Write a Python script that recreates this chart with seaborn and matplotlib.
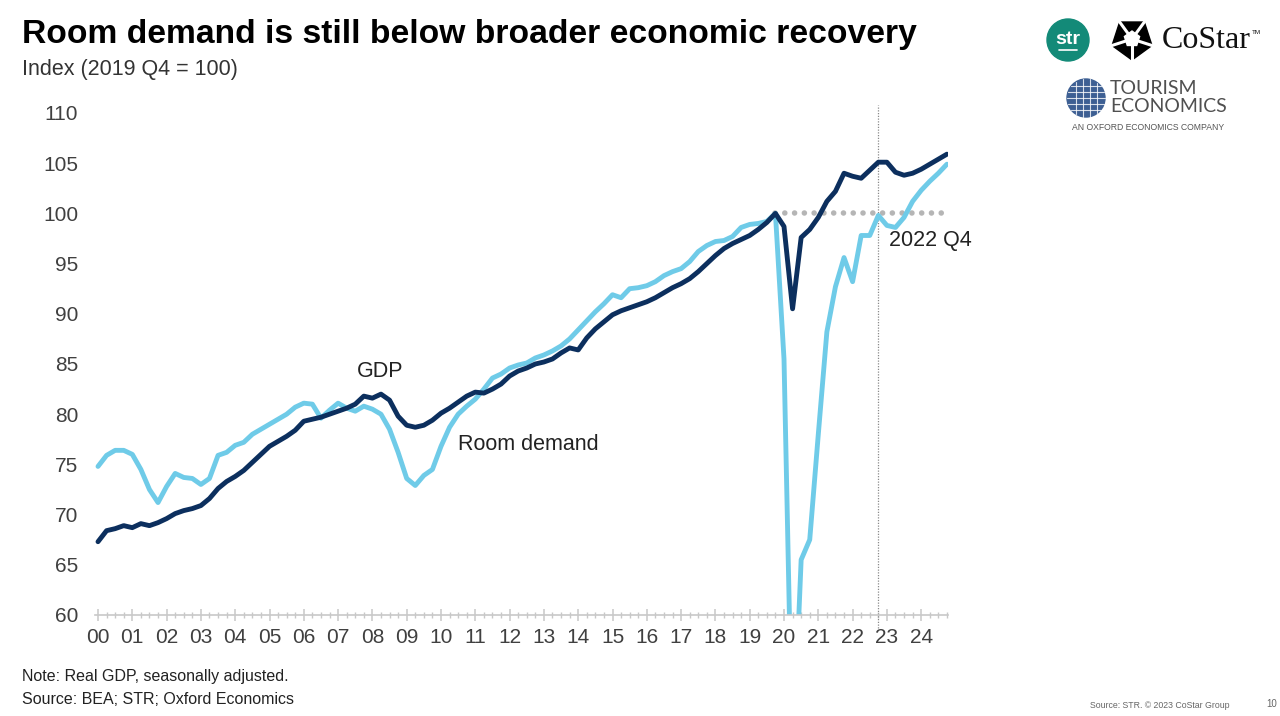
import numpy as np
import pandas as pd
import matplotlib
matplotlib.use("Agg")
import matplotlib.pyplot as plt
import matplotlib.patches as mpatches
import seaborn as sns

# ---------------- data ----------------
quarters = pd.period_range("2000Q1", "2024Q4", freq="Q")
gdp = [67.3, 68.4, 68.6, 68.9, 68.7, 69.1, 68.9, 69.2, 69.6, 70.1, 70.4, 70.6,
       70.9, 71.6, 72.6, 73.3, 73.8, 74.4, 75.2, 76.0, 76.8, 77.3, 77.8, 78.4,
       79.3, 79.5, 79.7, 80.0, 80.3, 80.6, 81.0, 81.8, 81.6, 82.0, 81.4, 79.8,
       78.9, 78.7, 78.9, 79.4, 80.1, 80.6, 81.2, 81.8, 82.2, 82.1, 82.5, 83.0,
       83.8, 84.3, 84.6, 85.0, 85.2, 85.5, 86.1, 86.6, 86.4, 87.6, 88.5, 89.2,
       89.9, 90.3, 90.6, 90.9, 91.2, 91.6, 92.1, 92.6, 93.0, 93.5, 94.2, 95.0,
       95.8, 96.5, 97.0, 97.4, 97.8, 98.4, 99.1, 100.0, 98.7, 90.5, 97.6, 98.4,
       99.6, 101.2, 102.2, 104.0, 103.7, 103.5, 104.3, 105.1, 105.1, 104.1, 103.8, 104.0,
       104.4, 104.9, 105.4, 105.9]
room_demand = [74.8, 75.9, 76.4, 76.4, 76.0, 74.5, 72.5, 71.2, 72.8, 74.1, 73.7, 73.6,
               73.0, 73.6, 75.9, 76.2, 76.9, 77.2, 78.0, 78.5, 79.0, 79.5, 80.0, 80.7,
               81.1, 81.0, 79.6, 80.4, 81.1, 80.6, 80.3, 80.8, 80.5, 80.0, 78.5, 76.2,
               73.6, 72.9, 73.9, 74.5, 76.8, 78.7, 80.0, 80.8, 81.5, 82.5, 83.6, 84.0,
               84.6, 84.9, 85.1, 85.6, 85.9, 86.3, 86.8, 87.5, 88.4, 89.3, 90.2, 91.0,
               91.9, 91.6, 92.5, 92.6, 92.8, 93.2, 93.8, 94.2, 94.5, 95.2, 96.2, 96.8,
               97.2, 97.3, 97.7, 98.6, 98.9, 99.0, 99.2, 100.0, 85.5, 45.0, 65.5, 67.5,
               78.0, 88.2, 92.7, 95.6, 93.2, 97.8, 97.8, 99.8, 98.8, 98.6, 99.6, 101.2,
               102.3, 103.2, 104.0, 104.9]
series_names = ["GDP", "Room demand"]
year_labels = [f"{y % 100:02d}" for y in range(2000, 2025)]
y_ticks = [60, 65, 70, 75, 80, 85, 90, 95, 100, 105, 110]
base_quarter = "2019Q4"
marker_quarter = "2022Q4"

# ---------------- frame ----------------
t = quarters.year + (quarters.quarter - 1) / 4.0
df = pd.concat([
    pd.DataFrame({"t": t, "value": gdp, "series": series_names[0]}),
    pd.DataFrame({"t": t, "value": room_demand, "series": series_names[1]}),
])

sns.set_theme(style="white")
plt.rcParams["font.family"] = ["Liberation Sans", "DejaVu Sans"]

fig = plt.figure(figsize=(12.8, 7.16), dpi=100)
ax = fig.add_axes([95 / 1280, 1 - 615 / 716, (948 - 95) / 1280, 502 / 716])

navy = "#0c2f5e"
light = "#6fcbe8"
sns.lineplot(data=df, x="t", y="value", hue="series",
             palette={series_names[0]: navy, series_names[1]: light},
             hue_order=series_names[::-1], linewidth=3.5, ax=ax, legend=False,
             solid_joinstyle="round", solid_capstyle="round")

tb = t[list(quarters.astype(str)).index(base_quarter)]
tm = t[list(quarters.astype(str)).index(marker_quarter)]
ax.hlines(100, tb, t[-1], colors="#b5b5b5", linestyles=(0, (0.01, 1.75)),
          linewidth=4.0, capstyle="round", zorder=1)
ax.axvline(tm, ymin=-0.025, ymax=1.016, color="#8a8a8a", linestyle=(0, (1, 1.2)),
           linewidth=0.9, clip_on=False, zorder=1)

ax.set_ylim(60, 110)
ax.set_xlim(2000 - 3 / 34.3, 2000 + 850 / 34.3)
ax.set_yticks(y_ticks)
ax.set_yticklabels([str(v) for v in y_ticks], fontsize=15, color="#404040")
years = np.arange(2000, 2025)
ax.set_xticks(years)
ax.set_xticklabels(year_labels, fontsize=15, color="#404040")
ax.set_xticks(t, minor=True)
ax.tick_params(axis="y", length=0, pad=12)
ax.tick_params(axis="x", which="both", bottom=True)
ax.tick_params(axis="x", which="major", length=9, width=1.1, color="#c8c8c8",
               direction="inout", pad=5)
ax.tick_params(axis="x", which="minor", length=5, width=1.0, color="#c8c8c8",
               direction="inout")
ax.set_xlabel("")
ax.set_ylabel("")
for s in ["top", "right", "left"]:
    ax.spines[s].set_visible(False)
ax.spines["bottom"].set_color("#c8c8c8")
ax.spines["bottom"].set_linewidth(1.2)
ax.grid(False)

ax.text(2007.55, 84.3, "GDP", fontsize=15.5, color="#222222", ha="left", va="center")
ax.text(2010.5, 77.0, "Room demand", fontsize=15.5, color="#222222", ha="left", va="center")
ax.text(2023.05, 97.3, "2022 Q4", fontsize=15.5, color="#222222", ha="left",
        va="center", clip_on=False)

# ---------------- titles & notes ----------------
fig.text(22 / 1280, 1 - 34 / 716, "Room demand is still below broader economic recovery",
         fontsize=24.2, fontweight="bold", color="black", ha="left", va="center")
fig.text(22 / 1280, 1 - 70 / 716, "Index (2019 Q4 = 100)", fontsize=15.5,
         color="#333333", ha="left", va="center")
fig.text(22 / 1280, 1 - 677 / 716, "Note: Real GDP, seasonally adjusted.", fontsize=11.5,
         color="#222222", ha="left", va="center")
fig.text(22 / 1280, 1 - 700 / 716, "Source: BEA; STR; Oxford Economics", fontsize=11.5,
         color="#222222", ha="left", va="center")
fig.text(1090 / 1280, 1 - 706 / 716, "Source: STR. \u00a9 2023 CoStar Group", fontsize=6.3,
         color="#666666", ha="left", va="center")
fig.text(1277 / 1280, 1 - 704 / 716, "10", fontsize=7, color="#666666",
         ha="right", va="center")

# ---------------- logos (approximate) ----------------
W, H = 1280, 716
lax = fig.add_axes([0, 0, 1, 1], zorder=5)
lax.set_xlim(0, W)
lax.set_ylim(H, 0)
lax.axis("off")
lax.set_aspect("equal")
lax.patch.set_alpha(0)

lax.add_patch(mpatches.Circle((1068, 40), 21, color="#138a78"))
lax.text(1068, 39, "str", color="white", fontsize=14, ha="center", va="center",
         fontweight="bold")
lax.plot([1059, 1077], [50, 50], color="white", lw=1.2)

lax.add_patch(mpatches.RegularPolygon((1132, 39), 5, radius=21, color="black"))
lax.add_patch(mpatches.RegularPolygon((1132, 39), 5, radius=8, color="white",
                                      orientation=np.pi / 5))
for k in range(5):
    a = np.pi / 2 + k * 2 * np.pi / 5 + np.pi / 5
    lax.plot([1132 + 6 * np.cos(a), 1132 + 24 * np.cos(a)],
             [39 - 6 * np.sin(a), 39 - 24 * np.sin(a)], color="white", lw=2.2)
lax.text(1162, 41, "CoStar", fontsize=23, family="Liberation Serif", ha="left",
         va="center", color="#111111")
lax.text(1252, 32, "TM", fontsize=4.5, ha="left", va="center", color="#111111")

lax.add_patch(mpatches.Circle((1086, 98), 19, color="#3d5f93"))
for dy in (-12, -6, 0, 6, 12):
    half = np.sqrt(max(19 ** 2 - dy ** 2, 0))
    lax.plot([1086 - half, 1086 + half], [98 + dy, 98 + dy], color="white", lw=0.8, alpha=0.8)
for dx in (-10, -3, 4, 11):
    half = np.sqrt(max(19 ** 2 - dx ** 2, 0))
    lax.plot([1086 + dx, 1086 + dx], [98 - half, 98 + half], color="white", lw=0.8, alpha=0.8)
lax.text(1110, 88, "TOURISM", fontsize=14, color="#505050", ha="left", va="center",
         family=["Lato", "Liberation Sans"])
lax.text(1110, 107, "ECONOMICS", fontsize=14, color="#505050", ha="left", va="center",
         family=["Lato", "Liberation Sans"])
lax.text(1072, 128, "AN OXFORD ECONOMICS COMPANY", fontsize=6.2, color="#555555",
         ha="left", va="center")

fig.savefig("out.png", dpi=100)
